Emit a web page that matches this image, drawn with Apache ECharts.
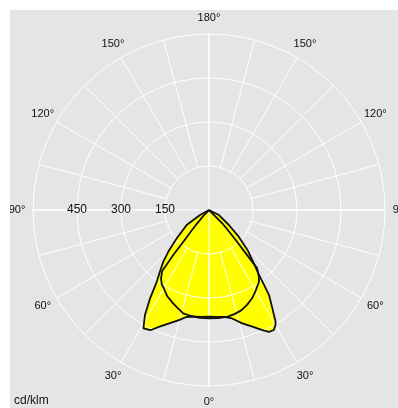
<!DOCTYPE html>
<html>
<head>
<meta charset="utf-8">
<script src="https://cdn.jsdelivr.net/npm/echarts@6.0.0/dist/echarts.min.js"></script>
<style>
  html, body { margin: 0; padding: 0; background: #ffffff; }
  #chart { width: 398px; height: 408px; }
</style>
</head>
<body>
<div id="chart"></div>
<script>
// Luminous intensity distribution (cd/klm). Gamma angle in degrees from nadir:
// negative = right half of the diagram, positive = left half.
const gammaA = [-50, -45, -43, -41.7, -40.3, -39.6, -37, -34.9, -30, -26, -22, -18, -14, -10, -5, 0,
                5, 10, 14, 18, 21, 26, 30, 32.5, 35, 37.5, 38.4, 39, 40.6, 44, 48];
const intensityA = [0, 64, 100, 137, 194, 257, 282, 298, 318, 335, 348, 359, 365, 369, 370, 369,
                    369, 366, 363, 350, 341, 326, 308, 300, 285, 262, 196, 139, 82, 30, 0];

const gammaB = [-75, -63, -53, -48, -44, -40, -37.6, -36.3, -35.2, -32.8, -30.8, -30, -28.4, -26.2,
                -24, -20.4, -16.4, -12, -8, -4, 0,
                4, 8, 12, 15, 19, 23, 26, 29, 31.4, 33.7, 36.1, 38.5, 41.5, 44.3, 48.8, 56, 61, 70];
const intensityB = [0, 38, 85, 137, 189, 238, 280, 317, 355, 399, 443, 453, 465, 463,
                    448, 424, 403, 378, 368, 365, 364,
                    365, 367, 373, 388, 408, 432, 456, 461, 419, 362, 302, 269, 235, 199, 146, 92, 35, 0];

// Grid rings and angle ticks
const ringValues = [150, 300, 450, 600];
const angleTicks = [0, 30, 60, 90, 120, 150, 180, 210, 240, 270, 300, 330];
const spokeStep = 15;

const toPolar = (gammas, values) =>
  gammas.map((g, i) => [values[i], g < 0 ? 360 + g : g]);

const dataA = toPolar(gammaA, intensityA);
const dataB = toPolar(gammaB, intensityB);

const CENTER = [209, 210];
const OUTER = 176;
const MAXV = ringValues[ringValues.length - 1];
const INNER = OUTER * ringValues[0] / MAXV;
const LABEL_R = MAXV * 192 / OUTER;     // angle labels sit a little outside the outer ring
const FONT = 'Liberation Sans, Arial, sans-serif';
const GRID = '#ffffff';
const TEXT = '#111111';

const chart = echarts.init(document.getElementById('chart'), null, { renderer: 'canvas' });

const fillSeries = (data) => ({
  type: 'line', coordinateSystem: 'polar', polarIndex: 0, data,
  showSymbol: false, symbol: 'none', silent: true, z: 1,
  lineStyle: { width: 0, opacity: 0 },
  areaStyle: { color: '#ffff00', opacity: 1 }
});
const outlineSeries = (data) => ({
  type: 'line', coordinateSystem: 'polar', polarIndex: 0, data,
  showSymbol: false, symbol: 'none', silent: true, z: 6,
  lineStyle: { width: 1.8, color: '#111111', join: 'round' }
});

chart.setOption({
  backgroundColor: '#e5e5e5',
  animation: false,
  polar: [
    { center: CENTER, radius: OUTER },               // data + angle labels
    { center: CENTER, radius: [INNER, OUTER] },      // rings, spokes, radius labels
    { center: CENTER, radius: OUTER }                // main cross through centre
  ],
  angleAxis: [
    {
      polarIndex: 0, type: 'value', min: 0, max: 360, interval: 30,
      startAngle: 270, clockwise: true,
      axisLine: { show: false }, axisTick: { show: false }, axisLabel: { show: false },
      splitLine: { show: false }
    },
    {
      polarIndex: 1, type: 'value', min: 0, max: 360, interval: spokeStep,
      startAngle: 180, z: 3,
      axisLine: { show: false }, axisTick: { show: false }, axisLabel: { show: false },
      splitLine: { show: true, lineStyle: { color: GRID, width: 1 } }
    },
    {
      polarIndex: 2, type: 'value', min: 0, max: 360, interval: 90,
      startAngle: 0, z: 3,
      axisLine: { show: false }, axisTick: { show: false }, axisLabel: { show: false },
      splitLine: { show: true, lineStyle: { color: GRID, width: 1 } }
    }
  ],
  radiusAxis: [
    {
      polarIndex: 0, type: 'value', min: 0, max: MAXV,
      axisLine: { show: false }, axisTick: { show: false }, axisLabel: { show: false },
      splitLine: { show: false }
    },
    {
      polarIndex: 1, type: 'value', min: ringValues[0], max: MAXV,
      interval: ringValues[1] - ringValues[0], z: 3,
      axisLine: { show: false }, axisTick: { show: false },
      splitLine: { show: true, lineStyle: { color: GRID, width: 1 } },
      axisLabel: {
        showMaxLabel: false, margin: 0, align: 'center', verticalAlign: 'middle',
        fontSize: 12, color: TEXT, fontFamily: FONT
      }
    },
    {
      polarIndex: 2, type: 'value', min: 0, max: MAXV,
      axisLine: { show: false }, axisTick: { show: false }, axisLabel: { show: false },
      splitLine: { show: false }
    }
  ],
  series: [
    fillSeries(dataA), fillSeries(dataB),
    outlineSeries(dataA), outlineSeries(dataB),
    {
      // gamma angle labels around the diagram, folded so both halves read 0°..180°
      type: 'scatter', coordinateSystem: 'polar', polarIndex: 0, silent: true, z: 8,
      clip: false, symbol: 'circle', symbolSize: 1,
      itemStyle: { color: 'rgba(0,0,0,0)', opacity: 1 },
      data: angleTicks.map(a => [LABEL_R, a]),
      label: {
        show: true, position: 'inside', align: 'center', verticalAlign: 'middle',
        fontSize: 11, color: TEXT, opacity: 1, fontFamily: FONT,
        textBorderWidth: 0,
        formatter: p => {
          const a = p.value[1];
          return (a > 180 ? 360 - a : a) + '°';
        }
      }
    }
  ],
  graphic: [
    { type: 'rect', left: 0, top: 0, shape: { width: 398, height: 10 }, style: { fill: '#ffffff' }, z: 100 },
    { type: 'rect', left: 0, top: 0, shape: { width: 10, height: 408 }, style: { fill: '#ffffff' }, z: 100 },
    {
      type: 'text', left: 14, top: 395, z: 50,
      style: { text: 'cd/klm', font: '12px ' + FONT, fill: TEXT }
    }
  ]
});
</script>
</body>
</html>
